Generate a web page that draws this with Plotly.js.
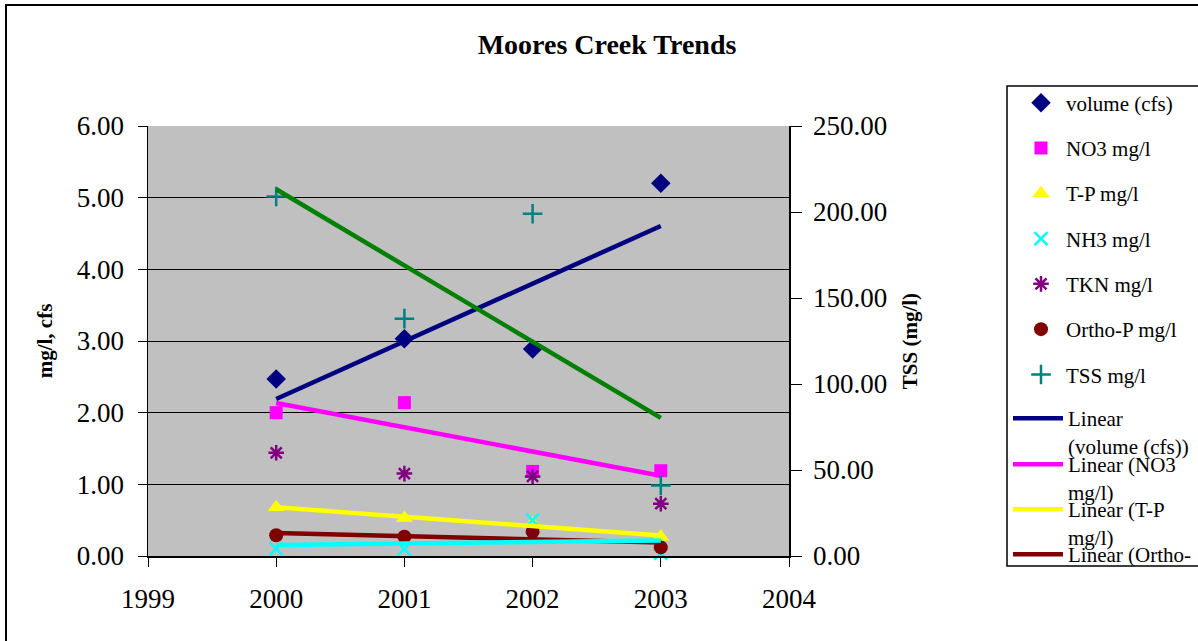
<!DOCTYPE html>
<html>
<head>
<meta charset="utf-8">
<script src="https://cdn.plot.ly/plotly-3.0.1.min.js"></script>
<style>
  html, body { margin: 0; padding: 0; background: #fff; }
  #wrap { position: relative; width: 1198px; height: 641px; overflow: hidden; }
  #chart { width: 1198px; height: 641px; }
  #frame { position: absolute; left: 5px; top: 4px; width: 1300px; height: 700px;
           border-top: 2px solid #000; border-left: 2px solid #000; pointer-events: none; }
</style>
</head>
<body>
<div id="wrap">
  <div id="chart"></div>
  <div id="frame"></div>
</div>
<script>
// ---- data ----
const years  = [2000, 2001, 2002, 2003];
const volume = [2.47, 3.03, 2.89, 5.20];   // cfs
const no3    = [2.00, 2.14, 1.18, 1.19];   // mg/l
const tp     = [0.68, 0.53, 0.45, 0.27];   // mg/l
const nh3    = [0.10, 0.10, 0.50, 0.04];   // mg/l
const tkn    = [1.44, 1.15, 1.11, 0.73];   // mg/l
const orthoP = [0.29, 0.27, 0.34, 0.12];   // mg/l
const tss    = [209, 138, 199, 41];        // mg/l (right axis)
const xTicks = [1999, 2000, 2001, 2002, 2003, 2004];
const yTicks = [0, 1, 2, 3, 4, 5, 6];
const y2Ticks = [0, 50, 100, 150, 200, 250];

// least-squares linear trend over the data
function trend(xs, ys) {
  const n = xs.length;
  const mx = xs.reduce((a, b) => a + b, 0) / n;
  const my = ys.reduce((a, b) => a + b, 0) / n;
  let sxy = 0, sxx = 0;
  for (let i = 0; i < n; i++) { sxy += (xs[i] - mx) * (ys[i] - my); sxx += (xs[i] - mx) ** 2; }
  const b = sxy / sxx, a = my - b * mx;
  return xs.map(x => a + b * x);
}

const SERIF = '"Liberation Serif", "Times New Roman", serif';

function pts(name, y, color, symbol, size, axis, lg, extra) {
  const m = Object.assign({ color: color, symbol: symbol, size: size }, extra || {});
  return { type: 'scatter', mode: 'markers', name: name, x: years, y: y,
           yaxis: axis || 'y', marker: m, legendgroup: lg, legend: 'legend', cliponaxis: false };
}
function line(name, y, color, axis, legendId, show) {
  return { type: 'scatter', mode: 'lines', name: name, x: years, y: trend(years, y),
           yaxis: axis || 'y', line: { color: color, width: 4.5 },
           showlegend: show, legend: legendId, legendgroup: 'l_' + name };
}

const data = [
  pts('volume (cfs)', volume, '#000080', 'diamond', 15, 'y', 'g1'),
  pts('NO3 mg/l', no3, '#ff00ff', 'square', 13, 'y', 'g2'),
  pts('T-P mg/l', tp, '#ffff00', 'triangle-up', 15, 'y', 'g3'),
  pts('NH3 mg/l', nh3, '#00ffff', 'x-thin-open', 13, 'y', 'g4', { line: { color: '#00ffff', width: 2.5 } }),
  pts('TKN mg/l', tkn, '#800080', 'asterisk-open', 13, 'y', 'g5', { line: { color: '#800080', width: 2.5 } }),
  pts('Ortho-P mg/l', orthoP, '#800000', 'circle', 14, 'y', 'g6'),
  line('Linear<br>(volume (cfs))', volume, '#000080', 'y', 'legend2', true),
  line('Linear (NO3<br>mg/l)', no3, '#ff00ff', 'y', 'legend3', true),
  line('Linear (T-P<br>mg/l)', tp, '#ffff00', 'y', 'legend4', true),
  line('Linear (Ortho-', orthoP, '#800000', 'y', 'legend5', true),
  line('Linear (NH3 mg/l)', nh3, '#00ffff', 'y', 'legend5', false),
  pts('TSS mg/l', tss, '#008080', 'cross-thin-open', 14, 'y2', 'g7', { line: { color: '#008080', width: 2.5 } }),
  line('Linear (TSS mg/l)', tss, '#008000', 'y2', 'legend5', false)
];

const FW = 1198, FH = 641;
function cy(p) { return 1 - p / FH; }   // pixel y -> container y
function cx(p) { return p / FW; }       // pixel x -> container x
const H = 430, TOP = 126, W = 641, LEFT = 148;
function py(p) { return (TOP + H - p) / H; }  // pixel y -> paper y
function px(p) { return (p - LEFT) / W; }

const legFont = { family: SERIF, size: 21, color: '#000' };
function lineLegend(yPix) {
  return { xref: 'container', yref: 'container', x: cx(1008), xanchor: 'left', y: cy(yPix), yanchor: 'top',
           bgcolor: 'rgba(0,0,0,0)', borderwidth: 0, font: legFont, valign: 'top', itemwidth: 50,
           itemclick: false, itemdoubleclick: false };
}

const layout = {
  width: FW, height: FH,
  margin: { l: 148, r: 1198 - 789, t: 126, b: 641 - 556, pad: 0 },
  paper_bgcolor: 'rgba(0,0,0,0)', plot_bgcolor: '#c0c0c0',
  font: { family: SERIF, color: '#000' },
  title: { text: '<b>Moores Creek Trends</b>', font: { family: SERIF, size: 28, color: '#000' },
           xref: 'container', x: 607 / 1198, xanchor: 'center', yref: 'container', y: cy(44), yanchor: 'middle' },
  xaxis: { range: [1999, 2004], tickvals: xTicks, ticktext: xTicks.map(String), showgrid: false, zeroline: false,
           showline: true, linecolor: '#000', linewidth: 1.5, ticks: 'outside', ticklen: 9, tickcolor: '#000',
           tickfont: { family: SERIF, size: 27 }, ticklabelstandoff: 9, automargin: false },
  yaxis: { range: [0, 6], tickvals: yTicks, ticktext: yTicks.map(v => v.toFixed(2)), showgrid: true,
           gridcolor: '#000', gridwidth: 1, zeroline: false, showline: true, linecolor: '#000', linewidth: 1.5,
           ticks: 'outside', ticklen: 9, tickcolor: '#000', tickfont: { family: SERIF, size: 27 },
           ticklabelstandoff: 8, automargin: false,
           title: { text: '<b>mg/l, cfs</b>', font: { family: SERIF, size: 21 }, standoff: 18 } },
  yaxis2: { range: [0, 250], overlaying: 'y', side: 'right', tickvals: y2Ticks,
            ticktext: y2Ticks.map(v => v.toFixed(2)), showgrid: false, zeroline: false, showline: true,
            linecolor: '#000', linewidth: 1.5, ticks: 'outside', ticklen: 11, tickcolor: '#000',
            tickfont: { family: SERIF, size: 27 }, ticklabelstandoff: 6, automargin: false,
            title: { text: '<b>TSS (mg/l)</b>', font: { family: SERIF, size: 21 }, standoff: 16 } },
  legend: { xref: 'container', yref: 'container', x: cx(1016), xanchor: 'left', y: cy(239), yanchor: 'middle',
            bgcolor: 'rgba(0,0,0,0)', borderwidth: 0, font: legFont, tracegroupgap: 15, itemwidth: 40,
            traceorder: 'grouped', itemclick: false, itemdoubleclick: false },
  legend2: lineLegend(398),
  legend3: lineLegend(444),
  legend4: lineLegend(489),
  legend5: lineLegend(534),
  shapes: [
    { type: 'rect', xref: 'paper', yref: 'paper', x0: px(1007), x1: px(1205), y0: py(566), y1: py(86),
      line: { color: '#000', width: 1.5 }, fillcolor: 'rgba(0,0,0,0)', layer: 'above' }
  ],
  showlegend: true
};

Plotly.newPlot('chart', data, layout, { displayModeBar: false, staticPlot: true });
</script>
</body>
</html>
